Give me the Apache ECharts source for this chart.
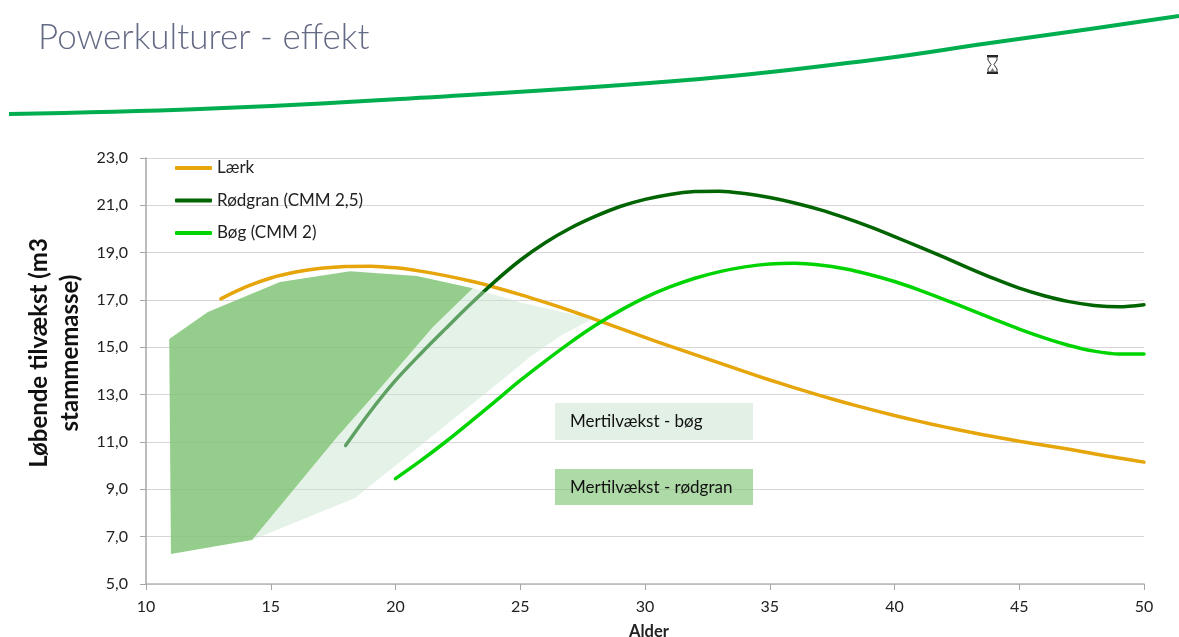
<!DOCTYPE html>
<html>
<head>
<meta charset="utf-8">
<style>html,body{margin:0;padding:0;background:#fff}#c{width:1179px;height:637px}</style>
<script src="https://cdn.jsdelivr.net/npm/echarts@6/dist/echarts.min.js"></script>
</head>
<body>
<div id="c"></div>
<script>
const xTicks = [10, 15, 20, 25, 30, 35, 40, 45, 50];
const yTicks = [5, 7, 9, 11, 13, 15, 17, 19, 21, 23];

const laerkAge = [13,14,15,16,17,18,19,20,21,22,23,24,25,26,27,28,29,30,31,32,33,34,35,36,37,38,39,40,41,42,43,44,45,46,47,48,49,50];
const laerk = [17.05,17.55,17.93,18.18,18.34,18.42,18.43,18.36,18.22,18.03,17.8,17.53,17.23,16.9,16.55,16.18,15.8,15.42,15.05,14.69,14.33,13.97,13.62,13.29,12.97,12.67,12.39,12.12,11.87,11.64,11.42,11.22,11.03,10.86,10.69,10.5,10.32,10.15];

const roedgranAge = [18,19,20,21,22,23,24,25,26,27,28,29,30,31,32,33,34,35,36,37,38,39,40,41,42,43,44,45,46,47,48,49,50];
const roedgran = [10.85,12.3,13.6,14.72,15.78,16.82,17.8,18.68,19.42,20.03,20.53,20.95,21.25,21.46,21.58,21.6,21.5,21.33,21.1,20.82,20.48,20.1,19.68,19.24,18.8,18.34,17.9,17.5,17.18,16.93,16.77,16.71,16.8];

const boegAge = [20,21,22,23,24,25,26,27,28,29,30,31,32,33,34,35,36,37,38,39,40,41,42,43,44,45,46,47,48,49,50];
const boeg = [9.45,10.2,11.0,11.85,12.72,13.6,14.42,15.2,15.92,16.55,17.1,17.55,17.92,18.2,18.4,18.52,18.55,18.48,18.32,18.08,17.78,17.42,17.02,16.6,16.18,15.77,15.4,15.08,14.84,14.72,14.72];

const merRoedgranX = [10.93,12.48,15.37,18.18,20.86,23.1,21.5,19.5,17.66,14.25,11.0];
const merRoedgranY = [15.35,16.49,17.76,18.22,18.01,17.5,15.86,13.41,11.21,6.86,6.27];

const merBoegX = [23.1,24.99,27.88,26.6,25.39,24.07,18.38,14.25,17.66,19.5,21.5];
const merBoegY = [17.5,16.91,16.2,15.48,14.59,13.45,8.63,6.86,11.21,13.41,15.86];

const zip = (a, b) => a.map((v, i) => [v, b[i]]);
const FONT = 'Lato, "Open Sans", sans-serif';

function polygonSeries(name, xs, ys, fill, z) {
  return {
    name, type: 'custom', z, silent: true,
    coordinateSystem: 'cartesian2d',
    data: zip(xs, ys),
    encode: { x: 0, y: 1 },
    renderItem(params, api) {
      if (params.dataIndex !== 0) return null;
      const points = zip(xs, ys).map(p => api.coord(p));
      return { type: 'polygon', shape: { points }, style: { fill } };
    }
  };
}
function lineSeries(name, xs, ys, color) {
  return {
    name, type: 'line', z: 2, smooth: 0.3, showSymbol: false, symbol: 'none',
    data: zip(xs, ys),
    lineStyle: { color, width: 3.5, cap: 'round' },
    itemStyle: { color }
  };
}

const chart = echarts.init(document.getElementById('c'), null, { renderer: 'canvas' });
chart.setOption({
  animation: false,
  backgroundColor: '#fff',
  textStyle: { fontFamily: FONT },
  title: {
    text: 'Powerkulturer - effekt', left: 33, top: 15,
    textStyle: { fontFamily: FONT, fontWeight: 300, fontSize: 35, color: '#646a85' }
  },
  grid: { left: 146, right: 35, top: 158, bottom: 53, outerBoundsMode: 'none' },
  legend: {
    left: 170, top: 153, orient: 'vertical', itemWidth: 37, itemHeight: 4, itemGap: 12.5,
    icon: 'roundRect', selectedMode: false,
    data: ['Lærk', 'Rødgran (CMM 2,5)', 'Bøg (CMM 2)'],
    textStyle: { fontFamily: FONT, fontSize: 17, color: '#222', lineHeight: 20 }
  },
  xAxis: {
    type: 'value', min: 10, max: 50, interval: 5,
    name: 'Alder', nameLocation: 'middle', nameGap: 39,
    nameTextStyle: { fontFamily: FONT, fontWeight: 'bold', fontSize: 16.5, color: '#222', padding: [0, 0, 0, 8] },
    axisLine: { show: true, lineStyle: { color: '#b5b5b5', width: 1.5 } },
    axisTick: { show: true, length: 6, lineStyle: { color: '#a6a6a6' } },
    axisLabel: { fontSize: 16, color: '#222', margin: 15, formatter: v => String(v) },
    splitLine: { show: false }
  },
  yAxis: {
    type: 'value', min: 5, max: 23,
    name: 'Løbende tilvækst (m3\nstammemasse)', nameLocation: 'middle', nameRotate: 90, nameGap: 57,
    nameTextStyle: { fontFamily: FONT, fontWeight: 'bold', fontSize: 24, lineHeight: 31, color: '#111', padding: [0, 0, 0, 36] },
    axisLine: { show: true, lineStyle: { color: '#a6a6a6', width: 1.5 } },
    axisTick: { show: true, length: 6, customValues: yTicks, lineStyle: { color: '#a6a6a6' } },
    axisLabel: { fontSize: 16, color: '#222', margin: 18, customValues: yTicks, formatter: v => v.toFixed(1).replace('.', ',') },
    splitLine: { show: true, lineStyle: { color: '#d8d4d8', width: 1.2 } }
  },
  series: [
    lineSeries('Lærk', laerkAge, laerk, '#e6a50a'),
    lineSeries('Rødgran (CMM 2,5)', roedgranAge, roedgran, '#006400'),
    lineSeries('Bøg (CMM 2)', boegAge, boeg, '#00d400'),
    polygonSeries('Mertilvækst - bøg', merBoegX, merBoegY, 'rgba(198,227,204,0.48)', 3),
    polygonSeries('Mertilvækst - rødgran', merRoedgranX, merRoedgranY, 'rgba(130,198,120,0.85)', 4)
  ],
  graphic: [
    { type: 'polyline', z: 5, silent: true,
      shape: { smooth: 0.4, points: [[9,114],[200,109],[400,99],[700,79],[880,59],[990,43],[1090,29],[1179,16]] },
      style: { stroke: '#00ae4f', lineWidth: 4, fill: null } },
    { type: 'rect', z: 5, silent: true, shape: { x: 987, y: 55, width: 11, height: 2 }, style: { fill: '#222' } },
    { type: 'rect', z: 5, silent: true, shape: { x: 987, y: 72, width: 11, height: 2 }, style: { fill: '#222' } },
    { type: 'polygon', z: 5, silent: true,
      shape: { points: [[988,57],[997,57],[997,60],[994,64.5],[997,69],[997,72],[988,72],[988,69],[991,64.5],[988,60]] },
      style: { stroke: '#333', lineWidth: 1, fill: '#fff' } },
    { type: 'polygon', z: 5, silent: true,
      shape: { points: [[990,72],[995,72],[992.5,68]] }, style: { fill: '#777' } },
    { type: 'rect', z: 5, silent: true, shape: { x: 555, y: 403, width: 198, height: 37 }, style: { fill: '#e3f0e6' } },
    { type: 'text', z: 6, silent: true, x: 570, y: 422,
      style: { text: 'Mertilvækst - bøg', font: '17px Lato', fill: '#111', verticalAlign: 'middle' } },
    { type: 'rect', z: 5, silent: true, shape: { x: 555, y: 469, width: 198, height: 36 }, style: { fill: 'rgba(130,198,120,0.65)' } },
    { type: 'text', z: 6, silent: true, x: 570, y: 488,
      style: { text: 'Mertilvækst - rødgran', font: '17px Lato', fill: '#111', verticalAlign: 'middle' } }
  ]
});
</script>
</body>
</html>
